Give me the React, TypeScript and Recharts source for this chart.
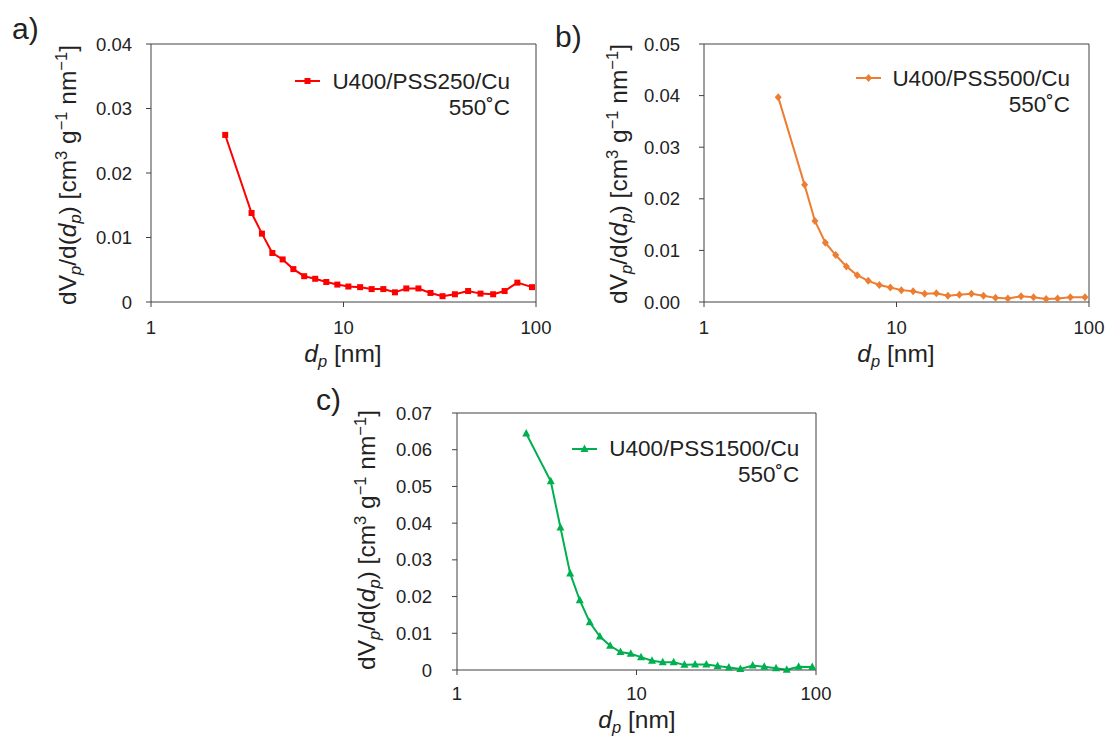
import React from 'react';
import { LineChart, Line, XAxis, YAxis, ReferenceLine, Legend } from 'recharts';

// pore diameters (nm), shared by all three samples
const dp = [2.43, 3.33, 3.77, 4.27, 4.83, 5.49, 6.25, 7.13, 8.14, 9.29, 10.6, 12.2, 14.0, 16.1, 18.5, 21.2, 24.5, 28.3, 32.7, 37.9, 44.4, 51.5, 59.9, 68.7, 80.0, 95.3];

const pss250 = [0.0259, 0.0138, 0.0106, 0.0076, 0.0066, 0.0051, 0.0040, 0.0036, 0.0031, 0.0027, 0.0024, 0.0023, 0.0020, 0.0020, 0.0015, 0.0021, 0.0021, 0.0014, 0.0009, 0.0012, 0.0017, 0.0013, 0.0012, 0.0017, 0.0030, 0.0023];
const pss500 = [0.0397, 0.0227, 0.0157, 0.0115, 0.0091, 0.0069, 0.0052, 0.0041, 0.0033, 0.0028, 0.0023, 0.0021, 0.0016, 0.0017, 0.0012, 0.0014, 0.0016, 0.0012, 0.0008, 0.0007, 0.0011, 0.0009, 0.0006, 0.0007, 0.0009, 0.0009];
const pss1500 = [0.0644, 0.0514, 0.0388, 0.0263, 0.0190, 0.0130, 0.0091, 0.0066, 0.0049, 0.0044, 0.0035, 0.0025, 0.0021, 0.0021, 0.0014, 0.0015, 0.0015, 0.0011, 0.0007, 0.0003, 0.0012, 0.0009, 0.0005, 0.0001, 0.0009, 0.0008];

const xTicks = [1, 10, 100];
const yTicksA = [0, 0.01, 0.02, 0.03, 0.04];
const yTicksB = [0, 0.01, 0.02, 0.03, 0.04, 0.05];
const yTicksC = [0, 0.01, 0.02, 0.03, 0.04, 0.05, 0.06, 0.07];

const seriesNames = ['U400/PSS250/Cu', 'U400/PSS500/Cu', 'U400/PSS1500/Cu'];
const tempLabel = '550˚C';
const panelLetters = ['a)', 'b)', 'c)'];

const FONT = '"Liberation Sans", Arial, sans-serif';
const TXT = '#222';
const AX = '#404040';
const TICK_FS = 18.5;

type Shape = 'square' | 'diamond' | 'triangle';

const marker = (shape: Shape, cx: number, cy: number, color: string, key?: string) => {
  if (shape === 'square') return <rect key={key} x={cx - 3} y={cy - 3} width={6} height={6} fill={color} />;
  if (shape === 'diamond')
    return <polygon key={key} points={`${cx},${cy - 4} ${cx + 3.5},${cy} ${cx},${cy + 4} ${cx - 3.5},${cy}`} fill={color} />;
  return <polygon key={key} points={`${cx},${cy - 4.5} ${cx + 4},${cy + 3} ${cx - 4},${cy + 3}`} fill={color} />;
};

const YTitle = ({ x, y }: { x: number; y: number }) => (
  <text x={x} y={y} transform={`rotate(-90, ${x}, ${y})`} textAnchor="middle" fontSize={24.5} fill={TXT} fontFamily={FONT} style={{ whiteSpace: 'pre' }}>
    <tspan>dV</tspan>
    <tspan fontStyle="italic" fontSize={16.5} dy={5}>p</tspan>
    <tspan dy={-5}>/d(</tspan>
    <tspan fontStyle="italic">d</tspan>
    <tspan fontStyle="italic" fontSize={16.5} dy={5}>p</tspan>
    <tspan dy={-5}>{') [cm'}</tspan>
    <tspan fontSize={16.5} dy={-9}>3</tspan>
    <tspan dy={9}>{' g'}</tspan>
    <tspan fontSize={16.5} dy={-9}>−1</tspan>
    <tspan dy={9}>{' nm'}</tspan>
    <tspan fontSize={16.5} dy={-9}>−1</tspan>
    <tspan dy={9}>]</tspan>
  </text>
);

const XTitle = ({ x, y }: { x: number; y: number }) => (
  <text x={x} y={y} textAnchor="middle" fontSize={24.5} fill={TXT} fontFamily={FONT} style={{ whiteSpace: 'pre' }}>
    <tspan fontStyle="italic">d</tspan>
    <tspan fontStyle="italic" fontSize={16.5} dy={5}>p</tspan>
    <tspan dy={-5}>{' [nm]'}</tspan>
  </text>
);

type PanelProps = {
  values: number[];
  name: string;
  color: string;
  shape: Shape;
  yTicks: number[];
  yFmt: (v: number) => string;
  left: number;
  top: number;
  width: number;
  height: number;
  margin: { top: number; right: number; left: number; bottom: number };
  yW: number;
  xH: number;
  yTickMargin: number;
  xTickMargin: number;
  legendPos: { left: number; top: number; markerX: number; markerY: number };
};

const Panel = (p: PanelProps) => {
  const rows = dp.map((d, i) => ({ dp: d, v: p.values[i] }));
  const yMax = p.yTicks[p.yTicks.length - 1];
  return (
    <div style={{ position: 'absolute', left: p.left, top: p.top }}>
      <LineChart width={p.width} height={p.height} data={rows} margin={p.margin}>
        <XAxis
          dataKey="dp"
          type="number"
          scale="log"
          domain={[1, 100]}
          ticks={xTicks}
          allowDataOverflow
          height={p.xH}
          stroke={AX}
          tickSize={5}
          tickMargin={p.xTickMargin}
          fontSize={TICK_FS}
          tick={{ fill: TXT, fontSize: TICK_FS, fontFamily: FONT }}
        />
        <YAxis
          type="number"
          domain={[0, yMax]}
          ticks={p.yTicks}
          tickFormatter={p.yFmt}
          width={p.yW}
          stroke={AX}
          tickSize={5}
          tickMargin={p.yTickMargin}
          fontSize={TICK_FS}
          tick={{ fill: TXT, fontSize: TICK_FS, fontFamily: FONT }}
        />
        <ReferenceLine y={yMax} stroke={AX} />
        <ReferenceLine x={100} stroke={AX} />
        <Legend
          layout="vertical"
          align="center"
          verticalAlign="middle"
          wrapperStyle={{ left: p.legendPos.left, top: p.legendPos.top, width: 240 }}
          content={() => (
            <div style={{ position: 'relative', width: 240, fontFamily: FONT, fontSize: 22.5, lineHeight: '26px', color: TXT }}>
              <svg width={26} height={12} style={{ position: 'absolute', left: p.legendPos.markerX, top: p.legendPos.markerY - 6 }}>
                <line x1={0} y1={6} x2={25} y2={6} stroke={p.color} strokeWidth={2} />
                {marker(p.shape, 12.5, 6, p.color)}
              </svg>
              <div style={{ textAlign: 'right' }}>
                {p.name}
                <br />
                {tempLabel}
              </div>
            </div>
          )}
        />
        <Line
          type="linear"
          dataKey="v"
          stroke={p.color}
          strokeWidth={2}
          isAnimationActive={false}
          dot={(d: any) => marker(p.shape, d.cx, d.cy, p.color, `m${d.index}`)}
          activeDot={false}
        />
      </LineChart>
    </div>
  );
};

const fmtZero = (v: number) => (v === 0 ? '0' : v.toFixed(2));
const fmt2 = (v: number) => v.toFixed(2);

export default function App() {
  return (
    <div style={{ position: 'absolute', left: 0, top: 0, width: 1110, height: 737, background: '#fff', overflow: 'hidden' }}>
      <Panel
        values={pss250}
        name={seriesNames[0]}
        color="#FF0000"
        shape="square"
        yTicks={yTicksA}
        yFmt={fmtZero}
        left={0}
        top={0}
        width={560}
        height={380}
        margin={{ top: 44, right: 24, left: 0, bottom: 0 }}
        yW={151}
        xH={78}
        yTickMargin={14}
        xTickMargin={14}
        legendPos={{ left: 270, top: 68.6, markerX: 25, markerY: 12.4 }}
      />
      <Panel
        values={pss500}
        name={seriesNames[1]}
        color="#ED7D31"
        shape="diamond"
        yTicks={yTicksB}
        yFmt={fmt2}
        left={560}
        top={0}
        width={550}
        height={380}
        margin={{ top: 44, right: 21, left: 0, bottom: 0 }}
        yW={144}
        xH={78}
        yTickMargin={19}
        xTickMargin={14}
        legendPos={{ left: 270, top: 66.3, markerX: 25.7, markerY: 11.7 }}
      />
      <Panel
        values={pss1500}
        name={seriesNames[2]}
        color="#00B050"
        shape="triangle"
        yTicks={yTicksC}
        yFmt={fmtZero}
        left={290}
        top={370}
        width={560}
        height={367}
        margin={{ top: 43, right: 34, left: 0, bottom: 0 }}
        yW={167}
        xH={67}
        yTickMargin={20}
        xTickMargin={12}
        legendPos={{ left: 269.3, top: 65.6, markerX: 12.4, markerY: 13.4 }}
      />
      <svg width={1110} height={737} style={{ position: 'absolute', left: 0, top: 0, pointerEvents: 'none' }}>
        <text x={12} y={39} fontSize={30} fill={TXT} fontFamily={FONT}>{panelLetters[0]}</text>
        <text x={555} y={47} fontSize={30} fill={TXT} fontFamily={FONT}>{panelLetters[1]}</text>
        <text x={316} y={410} fontSize={30} fill={TXT} fontFamily={FONT}>{panelLetters[2]}</text>
        <YTitle x={76} y={175} />
        <YTitle x={627} y={174} />
        <YTitle x={375} y={540} />
        <XTitle x={343} y={362} />
        <XTitle x={896} y={362} />
        <XTitle x={637} y={728} />
      </svg>
    </div>
  );
}
